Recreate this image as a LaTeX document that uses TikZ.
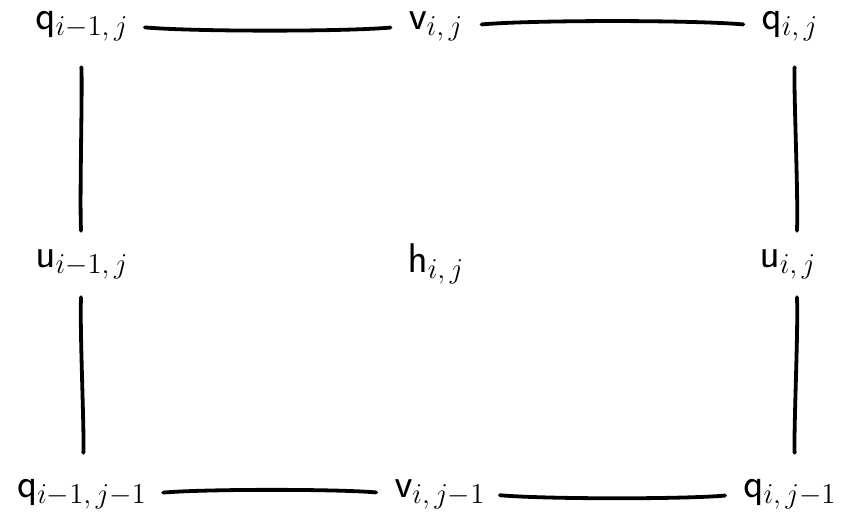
\documentclass[tikz,border=0pt]{standalone}
\begin{document}
\begin{tikzpicture}[x=0.5pt,y=-0.5pt,
  lbl/.style={inner sep=0pt,font=\fontsize{21}{25}\selectfont},
  edge/.style={line width=1.9pt,line cap=round},
  hwav/.style={edge,out=-5,in=185,looseness=0.6},
  hwavb/.style={edge,out=5,in=175,looseness=0.6},
  vwav/.style={edge,out=-87,in=93,looseness=0.6},
  vwavb/.style={edge,out=-93,in=87,looseness=0.6}]
\useasboundingbox (0,0) rectangle (846,519);
\node[lbl] (q1) at (82,26) {$\mathsf{q}_{i-1,\,j}$};
\node[lbl] (v1) at (436,26) {$\mathsf{v}_{i,\,j}$};
\node[lbl] (q2) at (790,26) {$\mathsf{q}_{i,\,j}$};
\node[lbl] (u1) at (82,264) {$\mathsf{u}_{i-1,\,j}$};
\node[lbl] (h)  at (436,264) {$\mathsf{h}_{i,\,j}$};
\node[lbl] (u2) at (788,264) {$\mathsf{u}_{i,\,j}$};
\node[lbl] (q3) at (82,494) {$\mathsf{q}_{i-1,\,j-1}$};
\node[lbl] (v2) at (440,494) {$\mathsf{v}_{i,\,j-1}$};
\node[lbl] (q4) at (790,494) {$\mathsf{q}_{i,\,j-1}$};
% horizontal
\draw[hwav,shorten <=8pt,shorten >=9pt] (q1.east) to (v1.west);
\draw[hwavb,shorten <=9pt,shorten >=9pt] (v1.east) to (q2.west);
\draw[hwavb,shorten <=8pt,shorten >=9pt] (q3.east) to (v2.west);
\draw[hwav,shorten <=7pt,shorten >=9pt] (v2.east) to (q4.west);
% vertical
\draw[vwav,shorten <=13pt,shorten >=9pt] ([xshift=-1pt]q1.south) to ([xshift=0pt]u1.north);
\draw[vwavb,shorten <=9pt,shorten >=13pt] ([xshift=0pt]u1.south) to ([xshift=0pt]q3.north);
\draw[vwavb,shorten <=13pt,shorten >=9pt] ([xshift=3pt]q2.south) to ([xshift=4pt]u2.north);
\draw[vwav,shorten <=9pt,shorten >=13pt] ([xshift=4pt]u2.south) to ([xshift=3pt]q4.north);
\end{tikzpicture}
\end{document}
